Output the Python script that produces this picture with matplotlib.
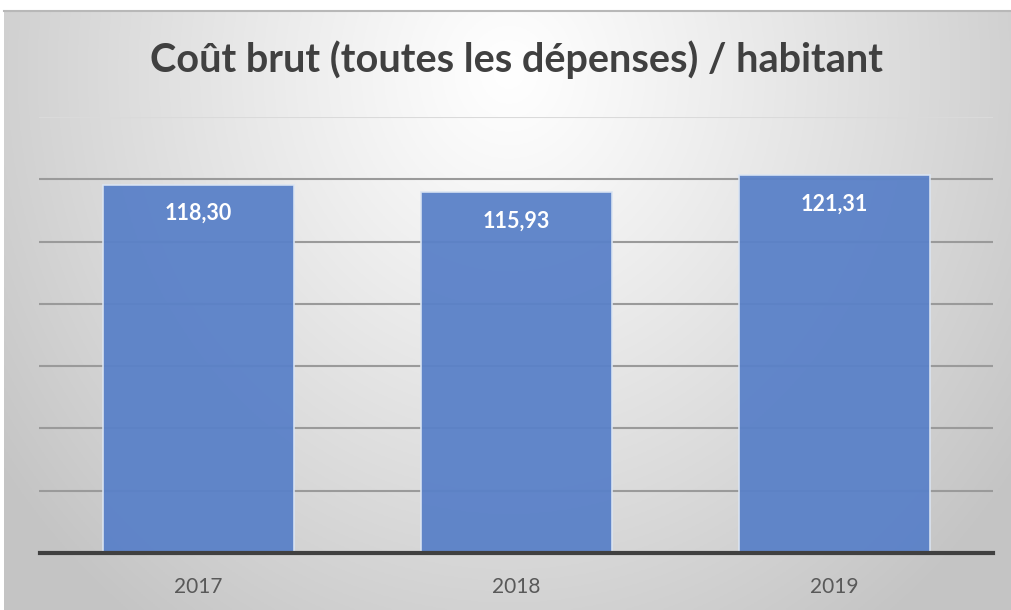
import numpy as np
import matplotlib
matplotlib.use("Agg")
import matplotlib.pyplot as plt
from matplotlib.lines import Line2D

categories = ["2017", "2018", "2019"]
values = [118.30, 115.93, 121.31]
labels = ["118,30", "115,93", "121,31"]
title = "Coût brut (toutes les dépenses) / habitant"

W, H = 1012, 610
fig = plt.figure(figsize=(W / 100, H / 100), dpi=100)
fig.patch.set_facecolor("white")

# background gradient
bg = fig.add_axes([4 / W, 0, 1 - 4 / W, (H - 11) / H])
bg.set_axis_off()
ny, nx = 300, 500
yy, xx = np.mgrid[0:ny, 0:nx]
cx, cy = nx * 0.5, ny * 0.1
d = np.sqrt(((xx - cx) / (nx * 0.62)) ** 2 + ((yy - cy) / (ny * 1.15)) ** 2)
d = np.clip(d, 0, 1)
v = 1.0 - 0.23 * d ** 1.1
img = np.dstack([v, v, v])
bg.imshow(img, aspect="auto", extent=[0, 1, 0, 1], origin="upper")
bg.set_xlim(0, 1)
bg.set_ylim(0, 1)
fig.add_artist(Line2D([4 / W, 1], [(H - 11) / H] * 2, transform=fig.transFigure,
                      color="#b8b8b8", lw=1.5))

ax = fig.add_axes([39.5 / W, (H - 553) / H, 954 / W, (553 - 117) / H])
ax.patch.set_alpha(0)
x = np.arange(len(categories))
ax.set_xlim(-0.5, 2.5)
ax.set_ylim(0, 140)
for gy in range(20, 121, 20):
    ax.axhline(gy, color="#9a9a9a", lw=1.5, zorder=1)
ax.axhline(140, color="#dadada", lw=1.5, zorder=1)
bars = ax.bar(x, values, width=0.6, color="#5a81c8", edgecolor="#dbe5f3",
              linewidth=1.2, alpha=0.95, zorder=3)
ax.set_yticks([])
ax.tick_params(axis="x", bottom=False, labelsize=15, labelcolor="#595959", pad=14)
ax.set_xticks(x)
ax.set_xticklabels(categories, family="Lato")
for s in ["top", "right", "left"]:
    ax.spines[s].set_visible(False)
ax.spines["bottom"].set_color("#404040")
ax.spines["bottom"].set_linewidth(3)
ax.spines["bottom"].set_zorder(4)

for xi, v_, lab in zip(x, values, labels):
    ax.annotate(lab, (xi, v_), xytext=(0, -29), textcoords="offset pixels",
                ha="center", va="center", color="white", fontsize=15.5,
                fontweight="bold", family="Lato", zorder=5)

fig.text(517 / W, 1 - 60 / H, title, ha="center", va="center", fontsize=28.5,
         fontweight="bold", color="#404040", family="Lato")

fig.savefig("out.png", dpi=100)
